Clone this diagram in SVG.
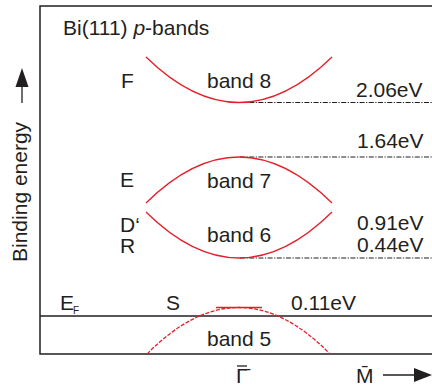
<svg xmlns="http://www.w3.org/2000/svg" width="432" height="390" viewBox="0 0 432 390">
<style>
text{font-family:"Liberation Sans",Arial,sans-serif;font-size:21px;fill:#231f20}
.frame{stroke:#231f20;stroke-width:1.5;fill:none}
.band{stroke:#e61e2a;stroke-width:1.3;fill:none}
.dash5{stroke-dasharray:4 1.5}
.ref{stroke:#231f20;stroke-width:1.2;fill:none;stroke-dasharray:5 1.5 1.2 1.5}
.sub{font-size:10px}
</style>
<rect width="432" height="390" fill="#fff"/>
<g id="frame">
<path class="frame" d="M432 6H40V354H432"/>
<path class="frame" d="M40 316H432" stroke="#444"/>
</g>
<g id="axes">
<line x1="22" y1="86" x2="22" y2="103" stroke="#231f20" stroke-width="1.3"/>
<polygon points="22,68 15.5,87 28.5,87" fill="#231f20"/>
<text transform="translate(27,262) rotate(-90)">Binding energy</text>
<line x1="383" y1="375" x2="416" y2="375" stroke="#231f20" stroke-width="1.3"/>
<polygon points="432,375 414,368 414,382" fill="#231f20"/>
<text x="236" y="383">Γ̄</text>
<line x1="237" y1="366" x2="247" y2="366" stroke="#231f20" stroke-width="1.3"/>
<text x="356" y="383">M̄</text>
</g>
<g id="title"><text x="63" y="35">Bi(111) <tspan font-style="italic">p</tspan>-bands</text></g>
<g id="connectors">
<path class="ref" d="M240 102.5H432"/>
<path class="ref" d="M240 157H432"/>
<path class="ref" d="M240 258H432"/>
</g>
<g id="band8">
<path class="band" d="M146 57Q239 148 332 57"/>
<text x="207" y="88">band 8</text>
<text x="121" y="88">F</text>
<text x="356" y="97">2.06eV</text>
</g>
<g id="band7">
<path class="band" d="M146 203Q239 111 332 203"/>
<text x="207" y="188">band 7</text>
<text x="120" y="187">E</text>
<text x="357" y="148">1.64eV</text>
</g>
<g id="band6">
<path class="band" d="M146 212Q239 304 332 212"/>
<text x="207" y="242">band 6</text>
<text x="120" y="232">D‘</text>
<text x="120" y="253">R</text>
<text x="357" y="230">0.91eV</text>
<text x="357" y="252">0.44eV</text>
</g>
<g id="band5">
<path class="band dash5" d="M147 354Q239 261 330 354"/>
<line x1="216" y1="307.5" x2="262" y2="307.5" stroke="#e61e2a" stroke-width="1.5"/>
<text x="207" y="346">band 5</text>
<text x="166" y="310">S</text>
<text x="291" y="310">0.11eV</text>
</g>
<g id="ef"><text x="60" y="310">E</text><text class="sub" x="73" y="314">F</text></g>
</svg>
